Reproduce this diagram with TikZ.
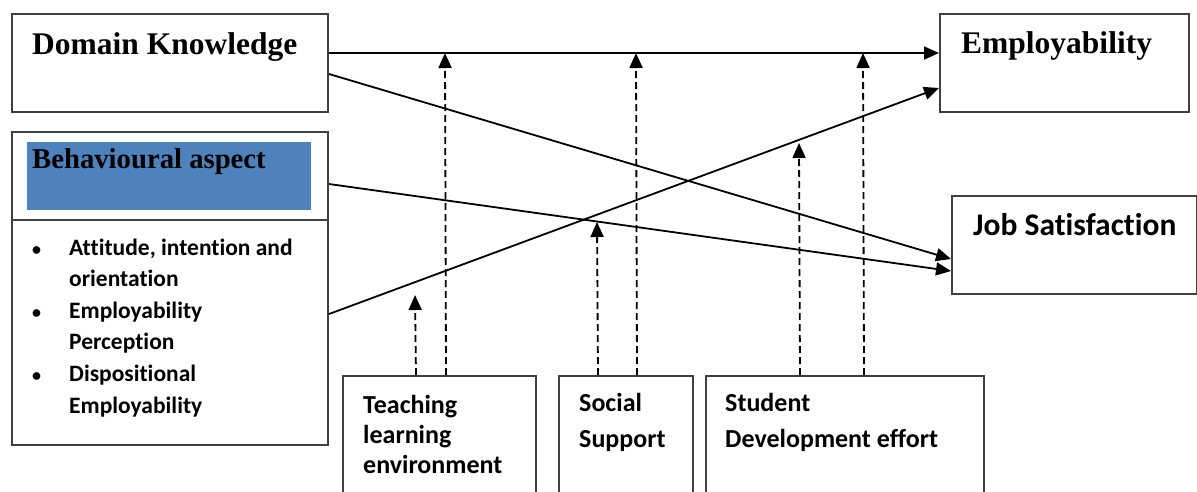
\documentclass[tikz,border=0pt]{standalone}
\usepackage{fontspec}
\setmainfont{Liberation Serif}
\newfontfamily\calibri[Ligatures=NoCommon]{Carlito}
\usetikzlibrary{arrows.meta}
\definecolor{aspectblue}{RGB}{79,129,189}
\newcommand{\listbullet}{\makebox[39pt][l]{\hspace*{2pt}{\fontsize{18}{18}\selectfont\textbullet}}}
\tikzset{
  box/.style={draw=black!75, line width=2pt, rectangle, anchor=north west, inner sep=0pt},
  heading/.style={anchor=base west, inner sep=0pt, font=\bfseries\fontsize{31.5}{36}\selectfont},
  cbody/.style={anchor=base west, inner sep=0pt, align=left, font=\calibri\bfseries\fontsize{26}{30}\selectfont},
  link/.style={line width=1.8pt, -{Triangle[length=15pt,width=13pt]}},
  moderator/.style={link, dash pattern=on 7pt off 4pt}
}
\begin{document}
\begin{tikzpicture}[scale=1.000000,x=1pt,y=-1pt]
\useasboundingbox (0,0) rectangle (1197,491);
\clip (0,0) rectangle (1197,491);
\fill[white] (0,0) rectangle (1197,491);
% Drawing boxes
% Box 1: domain knowledge
\node[box, minimum width=316pt, minimum height=98pt] (dk) at (11,13) {};
\node[heading] (dk-text) at (32,54) {Domain Knowledge};
% Box 2: behavioural aspect, with its list
\node[box, minimum width=316pt, minimum height=313pt] (bh) at (11,131) {};
\draw[draw=black!75, line width=2pt] (11,220) -- (327,220);
\node[fill=aspectblue, anchor=north west, inner sep=0pt, minimum width=284pt, minimum height=68pt] (bh-band) at (27,142) {};
\node[heading, font=\bfseries\fontsize{28.7}{33}\selectfont] (bh-text) at (32,168) {Behavioural aspect};
% (base of a multi-line node is its last line)
\node[cbody, font=\calibri\bfseries\fontsize{23.5}{31.6}\selectfont] (bh-list) at (30,413)
  {\listbullet Attitude, intention and\\
   \hspace*{39pt}orientation\\
   \listbullet Employability\\
   \hspace*{39pt}Perception\\
   \listbullet Dispositional\\
   \hspace*{39pt}Employability};
% Box 3: employability
\node[box, minimum width=249pt, minimum height=98pt] (empl) at (939,13) {};
\node[heading] (empl-text) at (961,53) {Employability};
% Box 4: job satisfaction
\node[box, minimum width=245pt, minimum height=98pt] (job) at (951,195) {};
\node[cbody, font=\calibri\bfseries\fontsize{31.5}{36}\selectfont] (job-text) at (973,235) {Job Satisfaction};
% Box 5-7: moderators along the bottom
\node[box, minimum width=193pt, minimum height=200pt] (teach) at (342,375) {};
\node[cbody] (teach-text) at (363,473) {Teaching\\learning\\environment};
\node[box, minimum width=134pt, minimum height=200pt] (social) at (558,375) {};
\node[cbody, font=\calibri\bfseries\fontsize{26}{36}\selectfont] (social-text) at (579,447) {Social\\Support};
\node[box, minimum width=278pt, minimum height=200pt] (student) at (705,375) {};
\node[cbody, font=\calibri\bfseries\fontsize{26}{36}\selectfont] (student-text) at (725,447) {Student\\Development effort};
% Done with boxes; drawing arrows
\draw[link] ([yshift=10pt]dk.east) -- ([yshift=10pt]empl.west);
\draw[link] ([yshift=-11pt]dk.east) -- ([yshift=-14pt]job.west);
\draw[link] ([yshift=104.5pt]bh.east) -- ([yshift=-26pt]job.west);
\draw[link] ([yshift=-25.5pt]bh.east) -- ([yshift=-25pt]empl.west);
% Done with arrows; drawing moderator arrows
\coordinate (teach-tip1) at (415,295);
\coordinate (teach-tip2) at (445,53);
\coordinate (social-tip1) at (597,222);
\coordinate (social-tip2) at (636,53);
\coordinate (student-tip1) at (799,143);
\coordinate (student-tip2) at (863,53);
\draw[moderator] ([xshift=-23.5pt]teach.north) -- (teach-tip1);
\draw[moderator] ([xshift=6.5pt]teach.north) -- (teach-tip2);
\draw[moderator] ([xshift=-28pt]social.north) -- (social-tip1);
\draw[moderator] ([xshift=11pt]social.north) -- (social-tip2);
\draw[moderator] ([xshift=-45pt]student.north) -- (student-tip1);
\draw[moderator] ([xshift=19pt]student.north) -- (student-tip2);
% Done with moderator arrows
\end{tikzpicture}
\end{document}
